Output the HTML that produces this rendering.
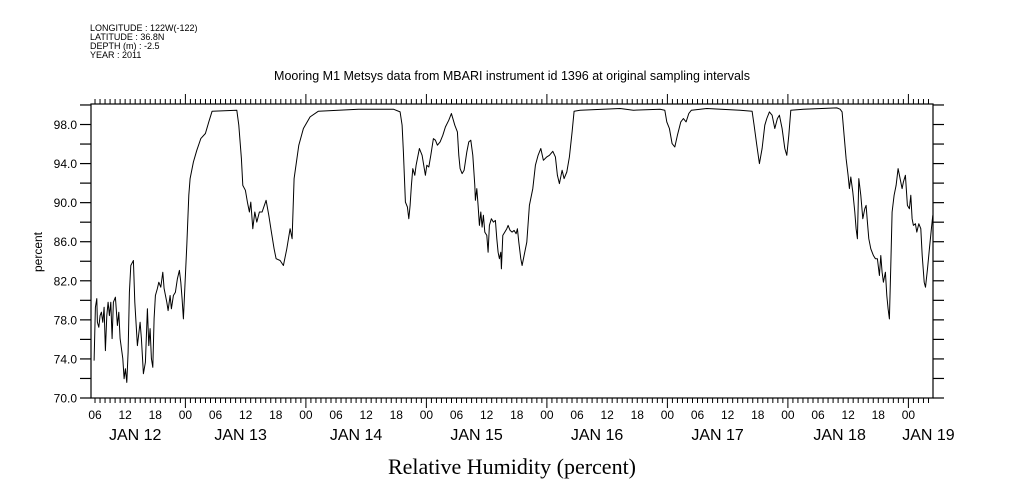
<!DOCTYPE html>
<html><head><meta charset="utf-8">
<style>
html,body{margin:0;padding:0;background:#fff;}
svg{display:block;font-family:"Liberation Sans",sans-serif;}
</style></head>
<body>
<svg id="chart" width="1009" height="504" viewBox="0 0 1009 504" xmlns="http://www.w3.org/2000/svg">
<rect x="0" y="0" width="1009" height="504" fill="#fff"/>
<g font-size="9" fill="#000">
<text x="90" y="31">LONGITUDE : 122W(-122)</text>
<text x="90" y="40">LATITUDE : 36.8N</text>
<text x="90" y="49">DEPTH (m) : -2.5</text>
<text x="90" y="58">YEAR : 2011</text>
</g>
<text x="512" y="80" text-anchor="middle" font-size="12.5">Mooring M1 Metsys data from MBARI instrument id 1396 at original sampling intervals</text>
<text x="512" y="474" text-anchor="middle" font-size="22" font-family="'Liberation Serif',serif">Relative Humidity (percent)</text>
<text transform="translate(42,252) rotate(-90)" text-anchor="middle" font-size="12">percent</text>
<g id="axes"></g>
<g id="series"></g>
<rect x="91" y="104" width="842" height="294" fill="none" stroke="#000" stroke-width="1.2"/>
</svg>
<script>
// hours since JAN 12 00:00, 2011
const hours = [5.82,6.07,6.35,6.47,6.75,7.01,7.27,7.55,7.81,8.07,8.35,8.6,8.86,9.14,9.4,9.66,10.06,10.46,10.74,11.0,11.53,11.79,12.05,12.33,12.59,12.85,13.13,13.64,13.92,14.44,14.98,15.24,15.63,16.03,16.43,16.71,16.97,17.23,17.51,17.77,18.02,18.42,18.7,19.1,19.5,19.76,20.3,20.55,20.95,21.21,21.61,22.01,22.41,22.8,23.08,23.34,23.6,24.0,24.28,24.68,24.94,25.59,26.27,27.07,27.98,28.66,29.32,34.24,34.64,35.15,35.43,35.95,36.35,36.75,37.03,37.42,37.82,38.22,38.74,39.28,40.07,40.61,41.13,41.67,42.06,42.86,43.52,44.2,44.85,45.25,45.65,46.59,47.5,48.84,50.49,58.46,65.43,66.76,67.16,67.42,67.82,68.22,68.5,68.75,69.01,69.29,69.69,69.95,70.21,70.61,71.14,71.8,72.08,72.48,72.88,73.4,73.79,74.19,74.73,75.27,75.78,76.46,76.98,77.66,78.17,78.45,78.71,79.11,79.51,80.05,80.45,80.84,81.24,81.64,81.76,82.04,82.3,82.56,82.84,83.09,83.35,83.63,84.03,84.29,84.55,84.95,85.35,85.74,86.03,86.28,86.54,86.82,86.94,87.22,87.62,88.01,88.27,88.67,89.07,89.47,89.87,90.12,90.4,90.8,91.06,91.46,92.0,92.52,93.19,93.71,94.25,94.79,95.3,95.98,96.5,97.18,97.69,98.09,98.49,99.03,99.43,99.96,100.48,101.02,101.42,102.61,110.58,113.23,118.55,119.48,119.88,120.4,120.94,121.47,121.99,122.67,123.19,123.73,124.26,124.78,127.85,134.48,136.87,137.27,137.81,138.32,138.86,139.4,139.8,140.32,140.85,141.39,141.91,142.31,142.85,143.38,143.78,144.18,144.58,147.09,153.74,154.4,154.8,155.2,155.6,155.99,156.25,156.53,156.93,157.33,157.59,157.85,158.12,158.52,158.92,159.32,159.58,159.84,160.11,160.51,161.03,161.43,161.83,162.23,162.5,162.76,163.02,163.42,163.7,163.96,164.22,164.5,164.76,165.16,165.55,165.95,166.35,166.75,167.01,167.4,167.8,168.2,168.48,168.74,169.0,169.4,169.68,170.08,170.48,170.74,171.14,171.4,171.8,172.19,172.59,172.87];
const humidity = [73.83,79.29,80.18,77.75,77.24,78.44,78.78,77.75,79.29,74.85,78.44,79.81,78.44,79.81,76.08,79.81,80.32,77.42,78.78,76.08,74.03,71.98,73.0,71.6,74.68,80.83,83.57,84.08,79.81,75.36,77.75,76.08,72.49,73.65,79.13,75.36,77.11,74.03,73.14,78.13,80.49,81.21,81.86,81.34,82.88,81.21,79.81,78.95,80.49,79.13,80.49,80.83,82.21,83.06,81.86,80.15,78.1,82.54,85.62,90.75,92.46,94.16,95.36,96.56,97.08,98.27,99.36,99.47,97.93,94.51,91.77,91.26,90.06,89.04,90.06,87.33,89.04,88.01,89.04,89.04,90.24,88.7,86.98,85.28,84.26,84.08,83.57,85.28,87.33,86.31,92.46,95.88,97.59,98.78,99.36,99.57,99.57,99.29,97.93,95.19,90.06,89.55,88.36,89.72,91.77,93.49,92.8,93.82,94.51,95.54,94.85,92.8,93.82,93.65,94.85,96.56,96.39,95.88,96.22,96.9,97.75,98.44,99.13,97.93,97.24,94.85,93.49,92.97,93.31,95.19,96.22,96.39,94.85,91.77,90.24,91.44,89.72,87.67,89.04,87.5,88.7,86.98,86.65,84.93,87.67,88.36,88.01,88.18,86.31,84.93,84.26,84.93,83.23,86.65,86.98,87.33,87.67,87.16,86.98,87.16,86.82,87.33,85.96,84.26,83.57,84.59,85.96,89.72,91.44,93.82,94.85,95.54,94.34,94.68,94.85,95.26,94.68,92.8,91.95,93.31,92.46,93.14,94.68,97.24,99.36,99.47,99.64,99.47,99.57,99.47,98.27,97.59,96.05,95.7,96.9,98.27,98.62,98.27,99.13,99.47,99.64,99.47,99.36,97.93,95.88,94.0,95.54,97.93,98.62,99.29,98.95,97.59,98.62,98.95,97.59,95.54,94.85,96.9,99.47,99.57,99.7,99.57,99.29,96.9,94.51,92.8,91.44,92.63,91.09,89.04,87.33,86.31,92.46,90.75,88.36,89.38,89.72,88.01,86.31,85.28,84.59,84.26,84.26,82.54,84.59,82.88,81.86,82.88,80.49,79.13,78.1,83.57,89.04,90.75,91.77,93.49,92.46,91.44,92.11,92.8,89.72,89.38,90.75,88.36,87.67,87.85,86.98,87.85,87.33,84.59,81.86,81.34,83.23,85.28,87.33,88.7];
const yTickValues = [70,74,78,82,86,90,94,98];
const yTickLabels = ["70.0","74.0","78.0","82.0","86.0","90.0","94.0","98.0"];
const hourTickHours = [6,12,18,24,30,36,42,48,54,60,66,72,78,84,90,96,102,108,114,120,126,132,138,144,150,156,162,168];
const hourTickLabels = ["06","12","18","00","06","12","18","00","06","12","18","00","06","12","18","00","06","12","18","00","06","12","18","00","06","12","18","00"];
const dayLabelHours = [14,35,58,82,106,130,154.3,172];
const dayLabels = ["JAN 12","JAN 13","JAN 14","JAN 15","JAN 16","JAN 17","JAN 18","JAN 19"];

const X0=91, X1=933, Y0=398, Y1=104;
const H_MIN=5.2, H_MAX=172.9, V_MIN=70, V_MAX=100.1;
function xs(h){return X0+(h-H_MIN)/(H_MAX-H_MIN)*(X1-X0);}
function ys(v){return Y0-(v-V_MIN)/(V_MAX-V_MIN)*(Y0-Y1);}
const NS="http://www.w3.org/2000/svg";
const axes=document.getElementById('axes');
function mk(tag,attrs,parent){const e=document.createElementNS(NS,tag);for(const k in attrs)e.setAttribute(k,attrs[k]);parent.appendChild(e);return e;}

for(let v=70; v<=100; v+=2){
  const y=ys(v);
  const l=mk('line',{x1:X0-11,x2:X0,y1:y,y2:y,stroke:'#000','stroke-width':1.2},axes);
  
  
  const r=mk('line',{x1:X1,x2:X1+11,y1:y,y2:y,stroke:'#000','stroke-width':1.2},axes);
  
  
}
yTickValues.forEach((v,i)=>{
  const t=mk('text',{x:X0-14,y:ys(v)+4.5,'text-anchor':'end','font-size':12},axes);
  t.textContent=yTickLabels[i];
  
  
});
for(let h=6; h<=172; h++){
  const x=xs(h);
  const major=(h%24===0);
  const len=major?10:5;
  const b=mk('line',{x1:x,x2:x,y1:Y0,y2:Y0+len,stroke:'#000','stroke-width':1},axes);
  
  
  const t=mk('line',{x1:x,x2:x,y1:Y1,y2:Y1-len,stroke:'#000','stroke-width':1},axes);
  
  
}
hourTickHours.forEach((h,i)=>{
  const t=mk('text',{x:xs(h),y:419,'text-anchor':'middle','font-size':12},axes);
  t.textContent=hourTickLabels[i];
  
  
});
dayLabelHours.forEach((h,i)=>{
  const t=mk('text',{x:xs(h),y:440,'text-anchor':'middle','font-size':16},axes);
  t.textContent=dayLabels[i];
  
  
});
const series=document.getElementById('series');
const d=hours.map((h,i)=>(i?'L':'M')+xs(h).toFixed(1)+' '+ys(humidity[i]).toFixed(1)).join(' ');
const p=mk('path',{d:d,fill:'none',stroke:'#000','stroke-width':1,'stroke-linejoin':'round'},series);


</script>
</body></html>
